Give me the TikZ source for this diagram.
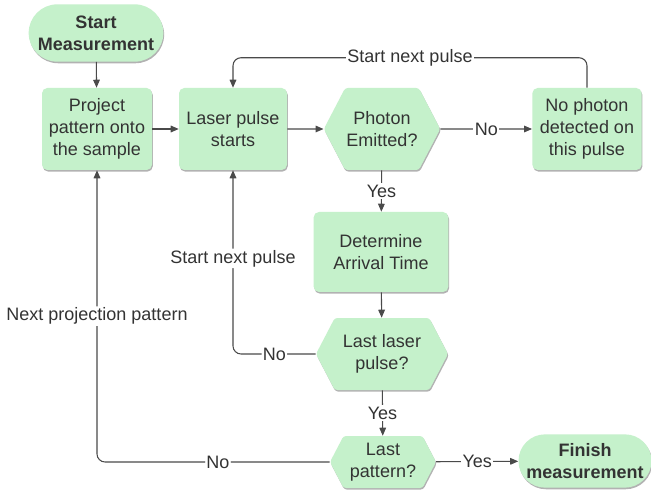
\documentclass[tikz,border=0pt]{standalone}
\usepackage{fontspec}
\setmainfont{Liberation Sans}
\usetikzlibrary{shapes.symbols,shapes.misc,shadows,arrows.meta}
\definecolor{boxfill}{HTML}{C5F1CB}
\definecolor{inkgray}{HTML}{333333}
\definecolor{linegray}{HTML}{4A4A4A}

\tikzset{
  base/.style={fill=boxfill, draw=none, text=inkgray, align=center,
    font=\fontsize{13.5}{16.5}\selectfont,
    drop shadow={opacity=0.3, shadow xshift=0.6pt, shadow yshift=-1.2pt, fill=black}},
  procbox/.style={base, rectangle, rounded corners=4pt, inner sep=1pt,
    minimum width=#1, minimum height=61.5pt},
  decide/.style={base, signal, signal to=west and east, signal pointer angle=125,
    rounded corners=2pt, inner sep=1pt, minimum width=#1},
  termbox/.style={base, rounded rectangle, inner sep=1pt, font=\fontsize{13.5}{16.5}\selectfont\bfseries},
  flow/.style={draw=linegray, line width=0.8pt, -{Triangle[length=6pt,width=5pt]}},
  lbl/.style={fill=white, text=inkgray, inner sep=1pt, font=\fontsize{13.5}{16.5}\selectfont},
}

\begin{document}
\begin{tikzpicture}[x=0.75pt, y=-0.75pt]
  \useasboundingbox[fill=white] (0,0) rectangle (651,492);

  \node[termbox, minimum width=103pt, minimum height=43pt] (start) at (96,33) {Start\\Measurement};
  \node[procbox=82.5pt] (proj) at (97,129) {Project\\pattern onto\\the sample};
  \node[procbox=81pt] (laser) at (233,129) {Laser pulse\\starts};
  \node[decide=79.5pt, minimum height=61.5pt] (photon) at (382,129) {Photon\\Emitted?};
  \node[procbox=82pt] (nophoton) at (587,129) {No photon\\detected on\\this pulse};
  \node[procbox=101pt, minimum height=60pt] (arrival) at (381,252) {Determine\\Arrival Time};
  \node[decide=99pt, minimum height=54pt] (lastlaser) at (382,354) {Last laser\\pulse?};
  \node[decide=79.5pt, minimum height=39pt] (lastpat) at (383,462) {Last\\pattern?};
  \node[termbox, minimum width=98pt, minimum height=40pt] (finish) at (585,461) {Finish\\measurement};

  \draw[flow] (start) -- (proj);
  \draw[flow] (proj) -- (laser);
  \draw[flow] (laser) -- (photon);
  \draw[flow] (photon) -- node[lbl]{No} (nophoton);
  \draw[flow, rounded corners=6pt] (nophoton.north) |- node[lbl, pos=0.75]{Start next pulse}
    ([yshift=22.5pt]laser.north) -- (laser.north);
  \draw[flow] (photon) -- node[lbl]{Yes} (arrival);
  \draw[flow] (arrival) -- (lastlaser);
  \draw[flow, rounded corners=6pt] (lastlaser.west) -| node[lbl, pos=0.25]{No}
    node[lbl, pos=0.76]{Start next pulse} (laser.south);
  \draw[flow] (lastlaser) -- node[lbl]{Yes} (lastpat);
  \draw[flow, rounded corners=6pt] (lastpat.west) -| node[lbl, pos=0.24]{No}
    node[lbl, pos=0.75]{Next projection pattern} (proj.south);
  \draw[flow] (lastpat) -- node[lbl]{Yes} (finish);
\end{tikzpicture}
\end{document}
